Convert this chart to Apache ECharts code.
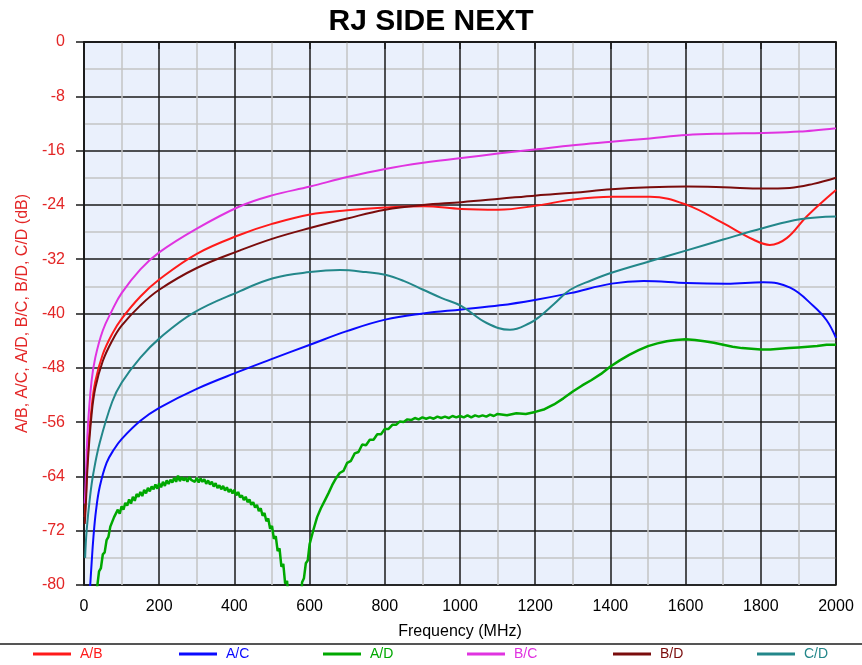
<!DOCTYPE html>
<html>
<head>
<meta charset="utf-8">
<script src="https://cdn.jsdelivr.net/npm/echarts@6/dist/echarts.min.js"></script>
<style>
html,body{margin:0;padding:0;background:#fff;}
#chart{width:862px;height:665px;}
</style>
</head>
<body>
<div id="chart"></div>
<script>
const titleText = 'RJ SIDE NEXT';
const xName = 'Frequency (MHz)';
const yName = 'A/B, A/C, A/D, B/C, B/D, C/D (dB)';
const seriesNames = ['A/B', 'A/C', 'A/D', 'B/C', 'B/D', 'C/D'];
const seriesColors = ['#ff1a1a', '#0a0aff', '#00a800', '#e033e0', '#7a0c0c', '#23878a'];

const freqAB = [2,5,10,20,30,50,75,100,150,200,300,415,500,601,700,801,902,1004,1102,1204,1301,1403,1505,1603,1700,1780,1824,1869,1922,2000];
const valAB  = [-70,-67,-61,-54,-50,-46,-43,-40.8,-37.5,-35,-31.2,-28.4,-26.8,-25.4,-24.8,-24.4,-24.2,-24.6,-24.7,-24.1,-23.2,-22.8,-22.8,-24.0,-26.7,-29.1,-29.9,-28.9,-25.7,-21.8];

const freqAC = [16,20,25,32,42,60,80,100,150,200,300,415,495,601,699,801,902,1004,1106,1199,1293,1403,1488,1603,1709,1807,1878,1940,1975,2000];
const valAC  = [-80.5,-77,-73,-69,-65.5,-62,-60,-58.5,-55.8,-53.9,-51.1,-48.5,-46.8,-44.6,-42.6,-40.9,-40.0,-39.4,-38.8,-38.0,-37.0,-35.6,-35.2,-35.5,-35.6,-35.4,-36.2,-38.9,-41.0,-43.6];

const freqAD = [28,35,40,45,50,55,60,65,70,75,80,85,90,95,100,105,110,115,120,125,130,135,140,145,150,155,160,165,170,175,180,185,190,195,200,205,210,215,220,225,230,235,240,245,250,255,260,265,270,275,280,285,290,295,300,305,310,315,320,325,330,335,340,345,350,355,360,365,370,375,380,385,390,395,400,405,410,415,420,425,430,435,440,445,450,455,460,465,470,475,480,485,490,495,500,505,510,515,520,525,530,535,540,545,550,570,578,580,585,590,595,600,605,610,615,620,625,630,635,640,645,650,655,660,665,670,675,680,690,700,710,720,730,740,750,760,770,780,790,800,810,820,830,840,850,860,870,880,890,900,910,920,930,940,950,960,970,980,990,1000,1010,1020,1030,1040,1050,1060,1070,1080,1090,1100,1125,1150,1175,1200,1225,1250,1275,1300,1325,1350,1375,1400,1425,1450,1475,1500,1525,1550,1575,1600,1625,1650,1675,1700,1725,1750,1775,1800,1825,1850,1875,1900,1925,1950,1975,2000];
const valAD  = [-83,-80.3,-78.0,-77.5,-75.5,-75.2,-73.4,-72.9,-71.4,-71.2,-70.0,-70.1,-68.9,-69.5,-68.4,-68.9,-67.9,-68.3,-67.4,-68.0,-67.0,-67.6,-66.6,-67.0,-66.3,-66.9,-66.0,-66.5,-65.7,-66.2,-65.5,-65.9,-65.2,-65.8,-65.0,-65.6,-64.8,-65.4,-64.6,-65.1,-64.5,-64.9,-64.2,-64.8,-63.9,-64.7,-64.1,-64.6,-64.2,-64.8,-64.1,-64.5,-64.3,-64.8,-64.2,-64.9,-64.3,-64.8,-64.4,-65.1,-64.6,-65.2,-64.8,-65.5,-65.0,-65.7,-65.3,-65.9,-65.4,-66.1,-65.6,-66.3,-65.9,-66.5,-66.0,-66.8,-66.3,-67.1,-66.8,-67.5,-67.0,-67.8,-67.4,-68.2,-67.8,-68.6,-68.2,-69.1,-68.7,-69.8,-69.4,-70.6,-70.2,-71.7,-71.3,-73.2,-72.8,-75.0,-74.6,-77.3,-76.9,-79.8,-79.4,-82.5,-83,-84,-81.5,-79.6,-79.0,-76.8,-76.4,-74.0,-73.8,-71.9,-71.8,-70.0,-70.2,-68.7,-68.8,-67.6,-67.7,-66.5,-66.6,-65.3,-65.4,-64.3,-64.4,-63.5,-63.2,-62.0,-61.7,-60.6,-60.4,-59.3,-59.4,-58.6,-58.6,-57.8,-57.8,-57.0,-57.0,-56.4,-56.4,-55.9,-56.0,-55.6,-55.7,-55.4,-55.6,-55.3,-55.5,-55.3,-55.5,-55.2,-55.4,-55.2,-55.4,-55.1,-55.3,-55.1,-55.3,-55.0,-55.3,-55.0,-55.2,-55.0,-55.2,-54.9,-55.1,-54.8,-55.0,-54.7,-54.8,-54.5,-54.1,-53.4,-52.5,-51.5,-50.6,-49.8,-48.9,-47.8,-46.9,-46.1,-45.4,-44.8,-44.4,-44.1,-43.9,-43.8,-43.9,-44.1,-44.3,-44.6,-44.9,-45.1,-45.2,-45.3,-45.3,-45.2,-45.1,-45.0,-44.9,-44.8,-44.6,-44.6,-44.7,-45.0,-45.5,-46.2];

const freqBC = [2,5,10,20,30,50,75,100,150,200,300,415,500,601,700,801,902,1004,1106,1204,1301,1403,1505,1603,1700,1807,1904,2000];
const valBC  = [-68,-64,-57,-50,-46.5,-42.5,-39.5,-37,-33.5,-31,-27.5,-24.2,-22.6,-21.3,-19.9,-18.7,-17.8,-17.1,-16.4,-15.8,-15.2,-14.7,-14.2,-13.7,-13.5,-13.4,-13.2,-12.7];

const freqBD = [2,5,10,20,30,50,75,100,150,200,300,415,500,601,700,801,902,1004,1106,1204,1301,1403,1505,1603,1700,1807,1877,1940,2000];
const valBD  = [-71,-68,-62,-55,-51,-47,-44,-41.8,-38.8,-36.5,-33.3,-30.7,-29,-27.4,-26.0,-24.7,-24.0,-23.6,-23.1,-22.6,-22.2,-21.7,-21.4,-21.3,-21.4,-21.6,-21.5,-20.9,-20.0];

const freqCD = [3,7,16,25,42,75,100,150,200,291,415,503,601,681,750,801,850,902,950,1004,1071,1133,1186,1213,1250,1293,1350,1403,1505,1603,1700,1807,1904,2000];
const valCD  = [-76,-72,-67,-63.5,-59,-53,-50.2,-46.5,-43.7,-39.9,-36.7,-34.8,-33.9,-33.6,-33.9,-34.3,-35.2,-36.5,-37.7,-38.9,-41.4,-42.4,-41.4,-40.4,-38.6,-36.5,-35.1,-34.0,-32.3,-30.7,-29.1,-27.4,-26.1,-25.7];

const xTicks = {min: 0, max: 2000, interval: 200};
const yTicks = {min: -80, max: 0, interval: 8};

const allFreq = [freqAB, freqAC, freqAD, freqBC, freqBD, freqCD];
const allVal  = [valAB, valAC, valAD, valBC, valBD, valCD];

const chart = echarts.init(document.getElementById('chart'), null, {renderer: 'canvas'});

const legendLefts = [33, 179, 323, 467, 613, 757];
const legends = seriesNames.map((n, i) => ({
  show: true,
  left: legendLefts[i],
  top: 647,
  icon: 'rect',
  itemWidth: 38,
  itemHeight: 3,
  padding: 0,
  selectedMode: false,
  data: [{name: n, textStyle: {color: seriesColors[i]}}],
  textStyle: {fontFamily: 'Liberation Sans, Arial', fontSize: 14, padding: [0, 0, 0, 4]}
}));

const series = seriesNames.map((n, i) => ({
  name: n,
  type: 'line',
  data: allFreq[i].map((f, k) => [f, allVal[i][k]]),
  showSymbol: false,
  symbol: 'none',
  smooth: i === 2 ? false : 0.4,
  clip: true,
  lineStyle: {color: seriesColors[i], width: i === 2 ? 2.5 : 2},
  itemStyle: {color: seriesColors[i]},
  emphasis: {disabled: true},
  z: 3
}));

chart.setOption({
  animation: false,
  backgroundColor: '#ffffff',
  title: {
    text: titleText,
    left: 'center',
    top: 2,
    textStyle: {fontFamily: 'Liberation Sans, Arial', fontWeight: 'bold', fontSize: 30, color: '#000'}
  },
  legend: legends,
  grid: {
    left: 84, right: 26, top: 42, bottom: 80,
    show: true,
    backgroundColor: '#eaf0fc',
    borderColor: '#1a1a1a',
    borderWidth: 1.5
  },
  xAxis: {
    type: 'value',
    min: xTicks.min, max: xTicks.max, interval: xTicks.interval,
    name: xName,
    nameLocation: 'middle',
    nameGap: 39,
    nameTextStyle: {fontFamily: 'Liberation Sans, Arial', fontSize: 16, color: '#000'},
    axisLine: {show: true, lineStyle: {color: '#1a1a1a', width: 1.5}},
    axisTick: {show: true, length: 7, lineStyle: {color: '#1a1a1a', width: 1.5}},
    axisLabel: {color: '#000', fontFamily: 'Liberation Sans, Arial', fontSize: 16, margin: 14, hideOverlap: false, formatter: v => String(v)},
    splitLine: {show: true, lineStyle: {color: '#1a1a1a', width: 1.5}},
    minorTick: {show: false, splitNumber: 2},
    minorSplitLine: {show: true, lineStyle: {color: '#c4c4c4', width: 1.5}}
  },
  yAxis: {
    type: 'value',
    min: yTicks.min, max: yTicks.max, interval: yTicks.interval,
    name: yName,
    nameLocation: 'middle',
    nameGap: 53,
    nameRotate: 90,
    nameMoveOverlap: false,
    nameTextStyle: {fontFamily: 'Liberation Sans, Arial', fontSize: 16, color: '#e32626'},
    axisLine: {show: true, lineStyle: {color: '#1a1a1a', width: 1.5}},
    axisTick: {show: true, length: 8, lineStyle: {color: '#1a1a1a', width: 1.5}},
    axisLabel: {color: '#e32626', fontFamily: 'Liberation Sans, Arial', fontSize: 16, margin: 19, hideOverlap: false, formatter: v => String(v)},
    splitLine: {show: true, lineStyle: {color: '#1a1a1a', width: 1.5}},
    minorTick: {show: false, splitNumber: 2},
    minorSplitLine: {show: true, lineStyle: {color: '#c4c4c4', width: 1.5}}
  },
  graphic: [{
    type: 'line',
    shape: {x1: 0, y1: 644, x2: 862, y2: 644},
    style: {stroke: '#555', lineWidth: 2},
    z: 10
  }],
  series: series
});
</script>
</body>
</html>
